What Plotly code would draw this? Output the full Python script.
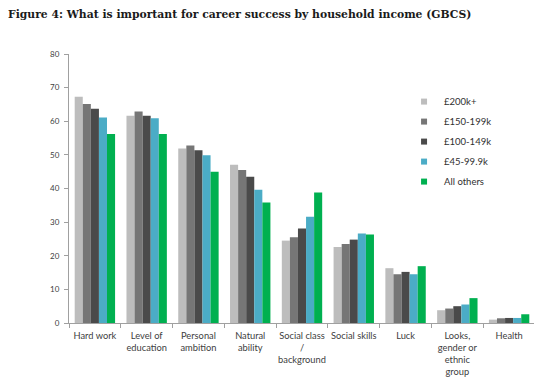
import plotly.graph_objects as go

categories = ["Hard work", "Level of<br>education", "Personal<br>ambition", "Natural<br>ability",
              "Social class<br>/<br>background", "Social skills", "Luck",
              "Looks,<br>gender or<br>ethnic<br>group", "Health"]
series_names = ["£200k+", "£150-199k", "£100-149k", "£45-99.9k", "All others"]
v_200k = [67.3, 61.6, 51.9, 47.1, 24.5, 22.6, 16.3, 3.8, 1.0]
v_150k = [65.1, 62.9, 52.8, 45.5, 25.5, 23.5, 14.5, 4.3, 1.4]
v_100k = [63.7, 61.6, 51.4, 43.5, 28.1, 24.8, 15.2, 5.0, 1.5]
v_45k = [61.1, 60.9, 49.9, 39.6, 31.6, 26.6, 14.5, 5.5, 1.5]
v_others = [56.2, 56.2, 45.0, 35.8, 38.8, 26.3, 16.9, 7.4, 2.6]
colors = ["#BDBDBD", "#767676", "#4A4A4A", "#4BACC6", "#00B050"]

fig = go.Figure()
for name, vals, c in zip(series_names, [v_200k, v_150k, v_100k, v_45k, v_others], colors):
    fig.add_trace(go.Bar(name=name, x=categories, y=vals, marker_color=c, marker_line_width=0,
                         showlegend=False))
# legend entries with small square swatches
for name, c in zip(series_names, colors):
    fig.add_trace(go.Scatter(name=name, x=[None], y=[None], mode="markers", legendgroup=name,
                             marker=dict(symbol="square", size=6, color=c), showlegend=True))

fig.update_layout(
    width=534, height=384,
    margin=dict(l=61, r=7, t=46, b=69),
    paper_bgcolor="white", plot_bgcolor="white",
    barmode="group", bargap=0.22, bargroupgap=0,
    font=dict(family="Lato, Liberation Sans, sans-serif", size=8, color="#404040"),
    title=dict(text="<b>Figure 4: What is important for career success by household income (GBCS)</b>",
               x=0.0, xanchor="left", y=0.985, yanchor="middle",
               font=dict(family="DejaVu Serif, Liberation Serif, serif", size=10.8, color="#1a1a1a")),
    legend=dict(x=0.719, y=0.877, xanchor="left", yanchor="top", bgcolor="rgba(0,0,0,0)",
                font=dict(size=9.5, color="#303030"), tracegroupgap=1, itemwidth=30),
    showlegend=True,
)
fig.update_xaxes(showline=True, linecolor="#A0A0A0", linewidth=1, ticks="outside",
                 tickson="boundaries", ticklen=4, tickcolor="#A0A0A0", tickangle=0,
                 ticklabelstandoff=4,
                 tickfont=dict(size=9.3, color="#404040"), showgrid=False, automargin=False)
fig.update_yaxes(range=[0, 80], dtick=10, showline=True, linecolor="#A0A0A0", linewidth=1,
                 ticks="outside", ticklen=4, tickcolor="#A0A0A0", showgrid=False, zeroline=False,
                 ticklabelstandoff=3,
                 tickfont=dict(size=8, color="#404040"), automargin=False)

fig.write_html("out.html")
